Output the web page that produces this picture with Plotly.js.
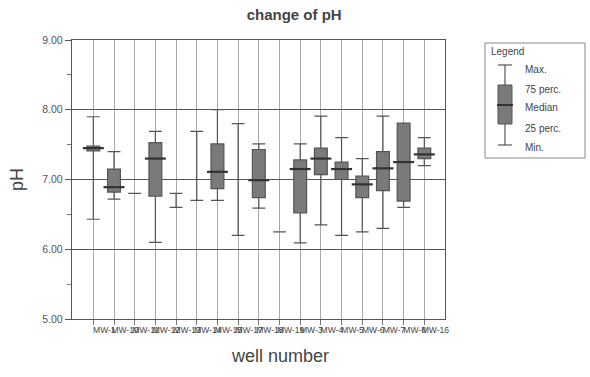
<!DOCTYPE html>
<html>
<head>
<meta charset="utf-8">
<script src="https://cdn.plot.ly/plotly-3.0.1.min.js"></script>
<style>html,body{margin:0;padding:0;background:#fff;}#chart{width:590px;height:377px;}</style>
</head>
<body>
<div id="chart"></div>
<script>
// ---- data ----
const wells = ["MW-1","MW-10","MW-11","MW-12","MW-13","MW-14","MW-15","MW-17","MW-18","MW-19","MW-3","MW-4","MW-5","MW-6","MW-7","MW-8","MW-16"];
const phMin    = [6.43, 6.72, 6.80, 6.10, 6.60, 6.70, 6.70, 6.20, 6.59, 6.25, 6.09, 6.35, 6.20, 6.25, 6.30, 6.60, 7.20];
const phQ1     = [7.41, 6.82, 6.80, 6.76, 6.60, 6.70, 6.87, 6.20, 6.74, 6.25, 6.52, 7.07, 7.00, 6.74, 6.84, 6.69, 7.30];
const phMedian = [7.45, 6.89, 6.80, 7.30, 6.60, 6.70, 7.11, 6.20, 6.99, 6.25, 7.15, 7.30, 7.15, 6.93, 7.16, 7.25, 7.36];
const phQ3     = [7.48, 7.15, 6.80, 7.53, 6.60, 6.70, 7.51, 6.20, 7.43, 6.25, 7.28, 7.45, 7.25, 7.05, 7.40, 7.81, 7.45];
const phMax    = [7.90, 7.40, 6.80, 7.69, 6.80, 7.69, 8.00, 7.80, 7.51, 6.25, 7.51, 7.91, 7.60, 7.30, 7.91, 7.81, 7.60];
const yTicks   = [5, 6, 7, 8, 9];
const yTickText = ["5.00", "6.00", "7.00", "8.00", "9.00"];
const legendItems = ["Max.", "75 perc.", "Median", "25 perc.", "Min."];

// ---- layout geometry (pixels) ----
const L = 72, R = 445, T = 40, B = 319;
const px = x => (x - L) / (R - L);
const py = y => (B - y) / (B - T);
const txt = "#444";

const boxTrace = {
  type: "box",
  x: wells,
  q1: phQ1, median: phMedian, q3: phQ3,
  lowerfence: phMin, upperfence: phMax,
  boxpoints: false,
  width: 0.62,
  whiskerwidth: 1,
  fillcolor: "#7a7a7a",
  line: {color: "#555", width: 1.2},
  hoverinfo: "skip",
  showlegend: false
};
// median marks drawn darker (only where a real box exists)
const medX = [], medY = [];
wells.forEach((w, i) => { if (phQ3[i] > phQ1[i]) { medX.push(w); medY.push(phMedian[i]); } });
const medTrace = {
  type: "scatter", mode: "markers", x: medX, y: medY,
  marker: {symbol: "line-ew", size: 15, line: {color: "#333", width: 2.2}},
  hoverinfo: "skip", showlegend: false
};

// legend drawn as shapes + annotations
const lg = {x0: 485, y0: 43, x1: 585, y1: 158, wx: 505, capT: 65, capB: 145, boxT: 85, boxB: 124, med: 105, bw: 7};
const shapes = [
  {type: "rect", xref: "paper", yref: "paper", x0: px(lg.x0), x1: px(lg.x1), y0: py(lg.y1), y1: py(lg.y0), line: {color: "#888", width: 1}},
  {type: "line", xref: "paper", yref: "paper", x0: px(lg.wx), x1: px(lg.wx), y0: py(lg.capB), y1: py(lg.capT), line: {color: "#555", width: 1.2}},
  {type: "line", xref: "paper", yref: "paper", x0: px(lg.wx - lg.bw), x1: px(lg.wx + lg.bw), y0: py(lg.capT), y1: py(lg.capT), line: {color: "#555", width: 1.2}},
  {type: "line", xref: "paper", yref: "paper", x0: px(lg.wx - lg.bw), x1: px(lg.wx + lg.bw), y0: py(lg.capB), y1: py(lg.capB), line: {color: "#555", width: 1.2}},
  {type: "rect", xref: "paper", yref: "paper", x0: px(lg.wx - lg.bw), x1: px(lg.wx + lg.bw), y0: py(lg.boxB), y1: py(lg.boxT), fillcolor: "#7a7a7a", line: {color: "#555", width: 1}},
  {type: "line", xref: "paper", yref: "paper", x0: px(lg.wx - lg.bw - 1), x1: px(lg.wx + lg.bw + 1), y0: py(lg.med), y1: py(lg.med), line: {color: "#333", width: 2}}
];
const lgY = [69, 89, 108, 128, 147];
const annotations = [
  {xref: "paper", yref: "paper", x: px(489), y: py(52), xanchor: "left", yanchor: "middle", text: "Legend", showarrow: false, font: {family: "Liberation Sans, Arial", size: 10, color: txt}},
  {xref: "paper", yref: "paper", x: px(280), y: py(356), xanchor: "center", yanchor: "middle", text: "well number", showarrow: false, font: {family: "Liberation Sans, Arial", size: 18, color: txt}}
].concat(legendItems.map((t, i) => ({
  xref: "paper", yref: "paper", x: px(523), y: py(lgY[i]), xanchor: "left", yanchor: "middle",
  text: t, showarrow: false, font: {family: "Liberation Sans, Arial", size: 10, color: txt}
})));

const layout = {
  width: 590, height: 377,
  margin: {l: L, r: 590 - R, t: T, b: 377 - B, pad: 0},
  paper_bgcolor: "#fff", plot_bgcolor: "#fff",
  title: {text: "<b>change of pH</b>", x: px(258), xanchor: "center", y: 1 - 15 / 377, yanchor: "middle",
          font: {family: "Liberation Sans, Arial", size: 15, color: txt}},
  xaxis: {
    type: "category", categoryarray: wells, categoryorder: "array",
    range: [-1.03, 17], 
    showgrid: true, gridcolor: "#a8a8a8", gridwidth: 1,
    showline: true, linecolor: "#555", linewidth: 1.2, mirror: true,
    ticks: "outside", ticklen: 5, tickcolor: "#777",
    tickangle: 0, ticklabelshift: 11, ticklabelstandoff: -2,
    tickfont: {family: "Liberation Sans Narrow, Arial Narrow, Liberation Sans", size: 8.5, color: txt},
    fixedrange: true, zeroline: false
  },
  yaxis: {
    range: [5, 9],
    tickvals: yTicks, ticktext: yTickText,
    showgrid: true, gridcolor: "#555", gridwidth: 1.2,
    showline: true, linecolor: "#555", linewidth: 1.2, mirror: true,
    ticks: "outside", ticklen: 6, tickcolor: "#555",
    minor: {dtick: 0.5, tick0: 0, ticks: "outside", ticklen: 4, tickcolor: "#777", showgrid: false},
    tickfont: {family: "Liberation Sans, Arial", size: 10.5, color: "#555"},
    title: {text: "pH", standoff: 14, font: {family: "Liberation Sans, Arial", size: 18, color: txt}},
    zeroline: false, fixedrange: true
  },
  shapes: shapes,
  annotations: annotations,
  showlegend: false
};

Plotly.newPlot("chart", [boxTrace, medTrace], layout, {displayModeBar: false, staticPlot: true});
</script>
</body>
</html>
